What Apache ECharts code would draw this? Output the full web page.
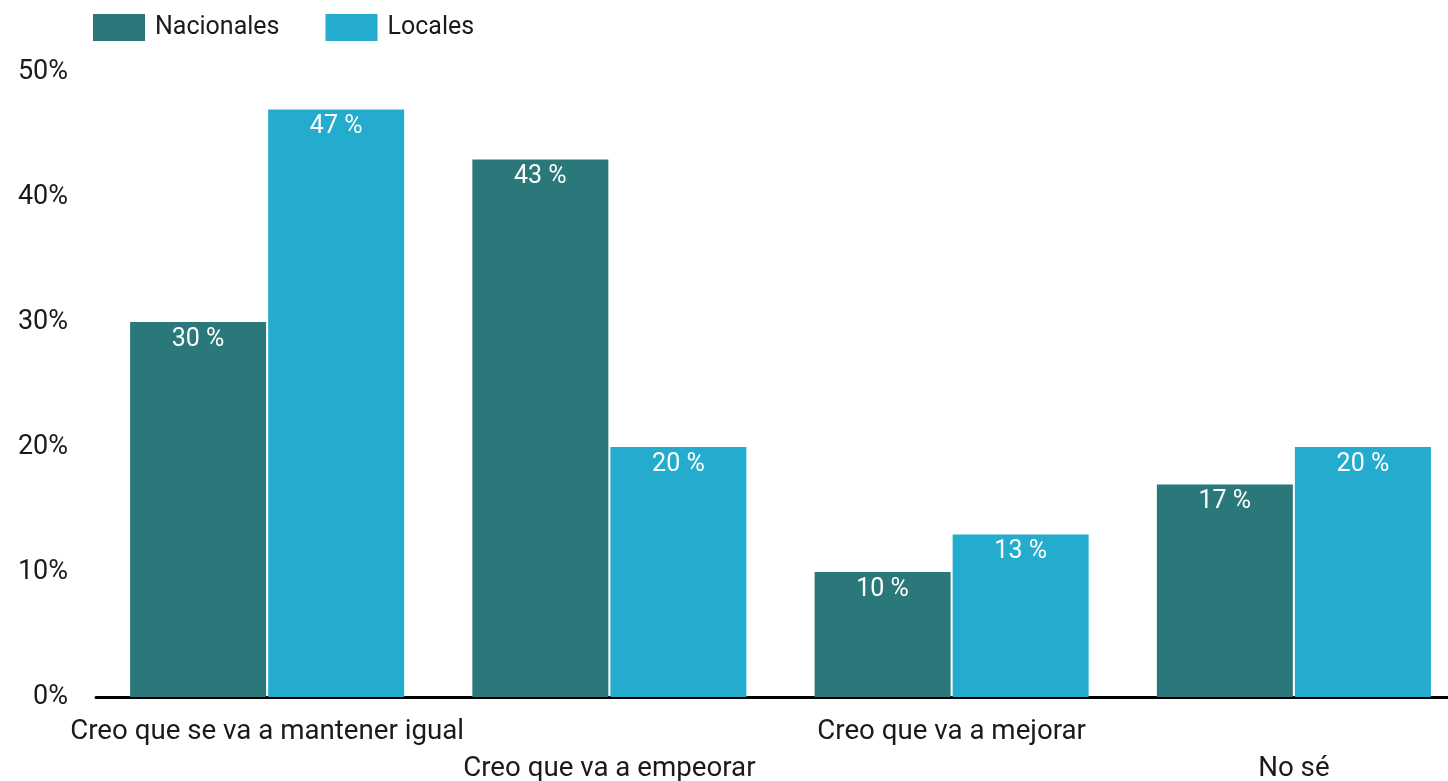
<!DOCTYPE html>
<html>
<head>
<meta charset="utf-8">
<script src="https://cdn.jsdelivr.net/npm/echarts@6/dist/echarts.min.js"></script>
<style>
  html, body { margin: 0; padding: 0; background: #fff; overflow: hidden; }
  /* el área del gráfico sigue un poco más allá del borde derecho */
  #main { width: 1465px; height: 781px; }
</style>
</head>
<body>
<div id="main"></div>
<script>
  // datos del gráfico
  var categorias = ['Creo que se va a mantener igual', 'Creo que va a empeorar', 'Creo que va a mejorar', 'No sé'];
  var nacionales = [30, 43, 10, 17];
  var locales = [47, 20, 13, 20];
  var ticksY = [0, 10, 20, 30, 40, 50];

  var myChart = echarts.init(document.getElementById('main'));

  var etiqueta = {
    show: true,
    position: 'insideTop',
    distance: 5,
    color: '#ffffff',
    fontSize: 25,
    fontFamily: 'Roboto',
    formatter: function (p) { return p.value + ' %'; }
  };

  var option = {
    animation: false,
    textStyle: { fontFamily: 'Roboto' },
    legend: {
      left: 93,
      top: 14,
      padding: 0,
      itemWidth: 52,
      itemHeight: 27,
      itemGap: 46,
      icon: 'rect',
      textStyle: { fontSize: 25, color: '#1a1a1a', padding: [0, 0, 0, 5] },
      data: ['Nacionales', 'Locales']
    },
    grid: {
      left: 96,
      right: 0,
      top: 72,
      bottom: 84,
      containLabel: false,
      outerBoundsMode: 'none'
    },
    xAxis: {
      type: 'category',
      data: categorias,
      axisTick: { show: false },
      axisLine: { lineStyle: { color: '#000', width: 3 } },
      axisLabel: {
        interval: 0,
        margin: 17,
        fontSize: 27.7,
        lineHeight: 37,
        color: '#1a1a1a',
        // etiquetas escalonadas
        formatter: function (v, i) { return i % 2 === 1 ? '\n' + v : v; }
      }
    },
    yAxis: {
      type: 'value',
      min: ticksY[0],
      max: ticksY[ticksY.length - 1],
      interval: 10,
      splitLine: { show: false },
      axisLine: { show: false },
      axisTick: { show: false },
      axisLabel: {
        margin: 28,
        fontSize: 27,
        color: '#1a1a1a',
        formatter: '{value}%'
      }
    },
    series: [
      {
        name: 'Nacionales',
        type: 'bar',
        barWidth: 136,
        barGap: '1.5%',
        itemStyle: { color: '#2B787A' },
        label: etiqueta,
        data: nacionales
      },
      {
        name: 'Locales',
        type: 'bar',
        barWidth: 136,
        barGap: '1.5%',
        itemStyle: { color: '#23ACCD' },
        label: etiqueta,
        data: locales
      }
    ]
  };

  myChart.setOption(option);
</script>
</body>
</html>
